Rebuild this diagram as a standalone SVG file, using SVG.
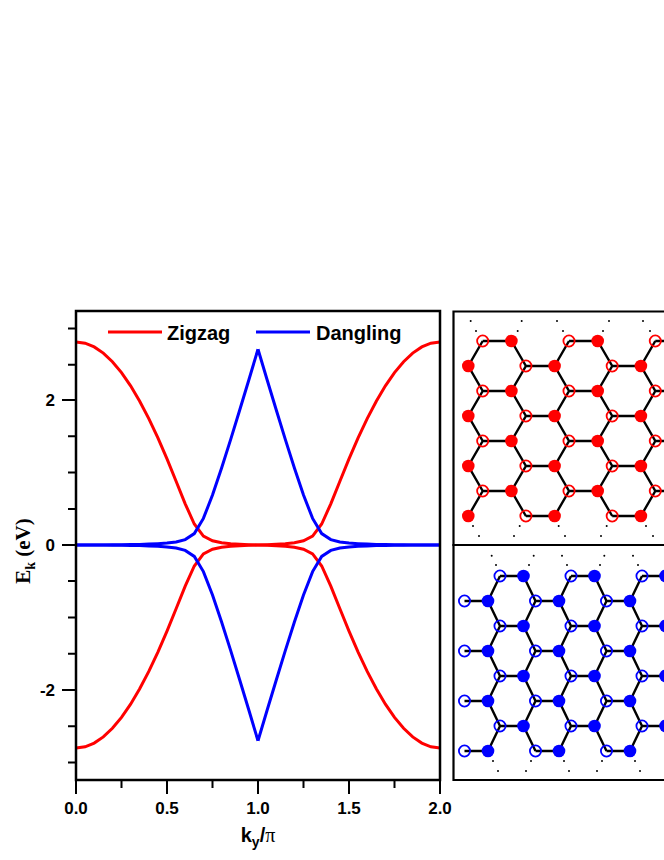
<svg xmlns="http://www.w3.org/2000/svg" xmlns:xlink="http://www.w3.org/1999/xlink" width="664" height="860" viewBox="0 0 664 860">
<style>
.ax{fill:none;stroke:#000;stroke-width:2.5}
.tk{stroke:#000;stroke-width:2}
.lbl{font-family:"Liberation Sans",Arial,sans-serif;font-weight:bold;font-size:17px;fill:#000}
.leg{font-family:"Liberation Sans",Arial,sans-serif;font-weight:bold;font-size:20px;fill:#000}
.red{fill:none;stroke:#f00;stroke-width:3}
.blue{fill:none;stroke:#00f;stroke-width:3}
.bond{fill:none;stroke:#000;stroke-width:2.4}
.dot{fill:#000}
</style>
<defs>
<polyline id="rh" points="76,342 85.1,343.2 94.2,346.9 103.3,353.1 112.4,361.7 121.5,372.6 130.6,385.8 139.7,401.2 148.8,418.6 157.9,437.9 167,458.9 176.1,481.2 185.2,503.8 194.3,524 203.4,536.1 212.5,540.8 221.6,542.8 230.7,543.7 239.8,544.3 248.9,544.7 258,545"/>
<polyline id="bh" points="76,545 85.1,545 94.2,544.9 103.3,544.9 112.4,544.8 121.5,544.7 130.6,544.6 139.7,544.4 148.8,544.1 157.9,543.7 167,543.1 176.1,542 185.2,539.6 194.3,533.6 203.4,518.4 212.5,495 221.6,468.1 230.7,439.4 239.8,409.8 248.9,379.7 258,349.2"/>
<circle id="rf" r="6.3" fill="#f00"/>
<circle id="ro" r="5.6" fill="none" stroke="#f00" stroke-width="1.8"/>
<circle id="bf" r="6.3" fill="#00f"/>
<circle id="bo" r="5.6" fill="none" stroke="#00f" stroke-width="1.8"/>
<clipPath id="c1"><rect x="453" y="312" width="211" height="233"/></clipPath>
<clipPath id="c2"><rect x="453" y="546" width="211" height="234"/></clipPath>
</defs>

<g id="plot">
<g id="curves">
<g class="red">
<use xlink:href="#rh"/>
<use xlink:href="#rh" transform="translate(516,0) scale(-1,1)"/>
<use xlink:href="#rh" transform="matrix(1 0 0 -1 0 1090)"/>
<use xlink:href="#rh" transform="matrix(-1 0 0 -1 516 1090)"/>
</g>
<g class="blue">
<use xlink:href="#bh"/>
<use xlink:href="#bh" transform="translate(516,0) scale(-1,1)"/>
<use xlink:href="#bh" transform="matrix(1 0 0 -1 0 1090)"/>
<use xlink:href="#bh" transform="matrix(-1 0 0 -1 516 1090)"/>
</g>
</g>
<rect class="ax" x="76" y="311" width="364" height="469"/>
<path class="tk" d="M62 545H76M62 400H76M62 690H76M68 328.5H76M68 364.75H76M68 436.25H76M68 472.5H76M68 509H76M68 581H76M68 617.5H76M68 653.75H76M68 726.25H76M68 762.5H76"/>
<path class="tk" d="M76 780V794M167 780V794M258 780V794M349 780V794M440 780V794M121.5 780V788M212.5 780V788M303.5 780V788M394.5 780V788"/>
<g class="lbl" text-anchor="end">
<text x="55" y="406">2</text>
<text x="55" y="551">0</text>
<text x="55" y="696">-2</text>
</g>
<g class="lbl" text-anchor="middle">
<text x="76" y="814">0.0</text>
<text x="167" y="814">0.5</text>
<text x="258" y="814">1.0</text>
<text x="349" y="814">1.5</text>
<text x="440" y="814">2.0</text>
</g>
<text x="258" y="842" text-anchor="middle" class="leg">k<tspan font-size="14" dy="5">y</tspan><tspan dy="-5">/</tspan><tspan font-family="'Liberation Serif',serif" font-weight="normal">π</tspan></text>
<text transform="translate(30,551) rotate(-90)" text-anchor="middle" font-family="'Liberation Serif',serif" font-weight="bold" font-size="21">E<tspan font-size="14" dy="5">k</tspan><tspan dy="-5"> (eV)</tspan></text>
<g id="legend">
<line x1="108" y1="332" x2="162" y2="332" stroke="#f00" stroke-width="3"/>
<text class="leg" x="167" y="340">Zigzag</text>
<line x1="256" y1="332" x2="310" y2="332" stroke="#00f" stroke-width="3"/>
<text class="leg" x="316" y="340">Dangling</text>
</g>
</g>

<g id="panel-zigzag">
<g clip-path="url(#c1)">
<path class="bond" d="M482.7 341l-14.4 25 14.4 25-14.4 25 14.4 25-14.4 25 14.4 25-14.4 25M511.4 341l14.5 25-14.5 25 14.5 25-14.5 25 14.5 25-14.5 25 14.5 25M569 341l-14.4 25 14.4 25-14.4 25 14.4 25-14.4 25 14.4 25-14.4 25M597.7 341l14.5 25-14.5 25 14.5 25-14.5 25 14.5 25-14.5 25 14.5 25M655.3 341l-14.4 25 14.4 25-14.4 25 14.4 25-14.4 25 14.4 25-14.4 25
M482.7 341h28.7M569 341h28.7M655.3 341h28.7M482.7 391h28.7M569 391h28.7M655.3 391h28.7M482.7 441h28.7M569 441h28.7M655.3 441h28.7M482.7 491h28.7M569 491h28.7M655.3 491h28.7
M525.9 366h28.7M612.2 366h28.7M525.9 416h28.7M612.2 416h28.7M525.9 466h28.7M612.2 466h28.7M525.9 516h28.7M612.2 516h28.7"/>
<g class="dot">
<circle cx="470.7" cy="321" r="1"/><circle cx="521.7" cy="321" r="1"/><circle cx="557" cy="321" r="1"/><circle cx="609" cy="321" r="1"/><circle cx="643" cy="321" r="1"/>
<circle cx="476" cy="331" r="1"/><circle cx="517.7" cy="331" r="1"/><circle cx="563" cy="331" r="1"/><circle cx="603" cy="331" r="1"/><circle cx="650" cy="331" r="1"/>
<circle cx="473" cy="526" r="1"/><circle cx="519.7" cy="526" r="1"/><circle cx="558.7" cy="526" r="1"/><circle cx="606.7" cy="526" r="1"/><circle cx="646" cy="526" r="1"/>
<circle cx="479" cy="536" r="1"/><circle cx="514" cy="536" r="1"/><circle cx="565" cy="536" r="1"/><circle cx="601" cy="536" r="1"/><circle cx="653" cy="536" r="1"/>
</g>
<g>
<use xlink:href="#ro" x="482.7" y="341"/><use xlink:href="#rf" x="511.4" y="341"/><use xlink:href="#ro" x="569" y="341"/><use xlink:href="#rf" x="597.7" y="341"/><use xlink:href="#ro" x="655.3" y="341"/>
<use xlink:href="#ro" x="482.7" y="391"/><use xlink:href="#rf" x="511.4" y="391"/><use xlink:href="#ro" x="569" y="391"/><use xlink:href="#rf" x="597.7" y="391"/><use xlink:href="#ro" x="655.3" y="391"/>
<use xlink:href="#ro" x="482.7" y="441"/><use xlink:href="#rf" x="511.4" y="441"/><use xlink:href="#ro" x="569" y="441"/><use xlink:href="#rf" x="597.7" y="441"/><use xlink:href="#ro" x="655.3" y="441"/>
<use xlink:href="#ro" x="482.7" y="491"/><use xlink:href="#rf" x="511.4" y="491"/><use xlink:href="#ro" x="569" y="491"/><use xlink:href="#rf" x="597.7" y="491"/><use xlink:href="#ro" x="655.3" y="491"/>
<use xlink:href="#rf" x="468.3" y="366"/><use xlink:href="#ro" x="525.9" y="366"/><use xlink:href="#rf" x="554.6" y="366"/><use xlink:href="#ro" x="612.2" y="366"/><use xlink:href="#rf" x="640.9" y="366"/>
<use xlink:href="#rf" x="468.3" y="416"/><use xlink:href="#ro" x="525.9" y="416"/><use xlink:href="#rf" x="554.6" y="416"/><use xlink:href="#ro" x="612.2" y="416"/><use xlink:href="#rf" x="640.9" y="416"/>
<use xlink:href="#rf" x="468.3" y="466"/><use xlink:href="#ro" x="525.9" y="466"/><use xlink:href="#rf" x="554.6" y="466"/><use xlink:href="#ro" x="612.2" y="466"/><use xlink:href="#rf" x="640.9" y="466"/>
<use xlink:href="#rf" x="468.3" y="516"/><use xlink:href="#ro" x="525.9" y="516"/><use xlink:href="#rf" x="554.6" y="516"/><use xlink:href="#ro" x="612.2" y="516"/><use xlink:href="#rf" x="640.9" y="516"/>
</g>
</g>
<path d="M666 311.5H453.5V545H666" fill="none" stroke="#000" stroke-width="2.2"/>
</g>

<g id="panel-dangling">
<g clip-path="url(#c2)">
<path class="bond" d="M500 576l-12 25 12 25-12 25 12 25-12 25 12 25-12 25M523.5 576l12 25-12 25 12 25-12 25 12 25-12 25 12 25M571 576l-12 25 12 25-12 25 12 25-12 25 12 25-12 25M594.5 576l12 25-12 25 12 25-12 25 12 25-12 25 12 25M642 576l-12 25 12 25-12 25 12 25-12 25 12 25-12 25M665.5 576l12 25-12 25 12 25-12 25 12 25-12 25 12 25
M500 576h23.5M571 576h23.5M642 576h23.5M500 626h23.5M571 626h23.5M642 626h23.5M500 676h23.5M571 676h23.5M642 676h23.5M500 726h23.5M571 726h23.5M642 726h23.5
M464.5 601h23.5M535.5 601h23.5M606.5 601h23.5M464.5 651h23.5M535.5 651h23.5M606.5 651h23.5M464.5 701h23.5M535.5 701h23.5M606.5 701h23.5M464.5 751h23.5M535.5 751h23.5M606.5 751h23.5"/>
<g class="dot">
<circle cx="491.7" cy="555.7" r="1"/><circle cx="533.7" cy="555.7" r="1"/><circle cx="562" cy="555.7" r="1"/><circle cx="604.3" cy="555.7" r="1"/><circle cx="633" cy="555.7" r="1"/>
<circle cx="496" cy="565" r="1"/><circle cx="529" cy="565" r="1"/><circle cx="567" cy="565" r="1"/><circle cx="600" cy="565" r="1"/><circle cx="638" cy="565" r="1"/>
<circle cx="493" cy="761" r="1"/><circle cx="531" cy="761" r="1"/><circle cx="564" cy="761" r="1"/><circle cx="602" cy="761" r="1"/><circle cx="635" cy="761" r="1"/>
<circle cx="498" cy="771" r="1"/><circle cx="526" cy="771" r="1"/><circle cx="569" cy="771" r="1"/><circle cx="597" cy="771" r="1"/><circle cx="640" cy="771" r="1"/>
</g>
<g>
<use xlink:href="#bo" x="500" y="576"/><use xlink:href="#bf" x="523.5" y="576"/><use xlink:href="#bo" x="571" y="576"/><use xlink:href="#bf" x="594.5" y="576"/><use xlink:href="#bo" x="642" y="576"/><use xlink:href="#bf" x="665.5" y="576"/>
<use xlink:href="#bo" x="500" y="626"/><use xlink:href="#bf" x="523.5" y="626"/><use xlink:href="#bo" x="571" y="626"/><use xlink:href="#bf" x="594.5" y="626"/><use xlink:href="#bo" x="642" y="626"/><use xlink:href="#bf" x="665.5" y="626"/>
<use xlink:href="#bo" x="500" y="676"/><use xlink:href="#bf" x="523.5" y="676"/><use xlink:href="#bo" x="571" y="676"/><use xlink:href="#bf" x="594.5" y="676"/><use xlink:href="#bo" x="642" y="676"/><use xlink:href="#bf" x="665.5" y="676"/>
<use xlink:href="#bo" x="500" y="726"/><use xlink:href="#bf" x="523.5" y="726"/><use xlink:href="#bo" x="571" y="726"/><use xlink:href="#bf" x="594.5" y="726"/><use xlink:href="#bo" x="642" y="726"/><use xlink:href="#bf" x="665.5" y="726"/>
<use xlink:href="#bo" x="464.5" y="601"/><use xlink:href="#bf" x="488" y="601"/><use xlink:href="#bo" x="535.5" y="601"/><use xlink:href="#bf" x="559" y="601"/><use xlink:href="#bo" x="606.5" y="601"/><use xlink:href="#bf" x="630" y="601"/>
<use xlink:href="#bo" x="464.5" y="651"/><use xlink:href="#bf" x="488" y="651"/><use xlink:href="#bo" x="535.5" y="651"/><use xlink:href="#bf" x="559" y="651"/><use xlink:href="#bo" x="606.5" y="651"/><use xlink:href="#bf" x="630" y="651"/>
<use xlink:href="#bo" x="464.5" y="701"/><use xlink:href="#bf" x="488" y="701"/><use xlink:href="#bo" x="535.5" y="701"/><use xlink:href="#bf" x="559" y="701"/><use xlink:href="#bo" x="606.5" y="701"/><use xlink:href="#bf" x="630" y="701"/>
<use xlink:href="#bo" x="464.5" y="751"/><use xlink:href="#bf" x="488" y="751"/><use xlink:href="#bo" x="535.5" y="751"/><use xlink:href="#bf" x="559" y="751"/><use xlink:href="#bo" x="606.5" y="751"/><use xlink:href="#bf" x="630" y="751"/>
</g>
</g>
<path d="M666 545H453.5V780H666" fill="none" stroke="#000" stroke-width="2.2"/>
</g>
</svg>
